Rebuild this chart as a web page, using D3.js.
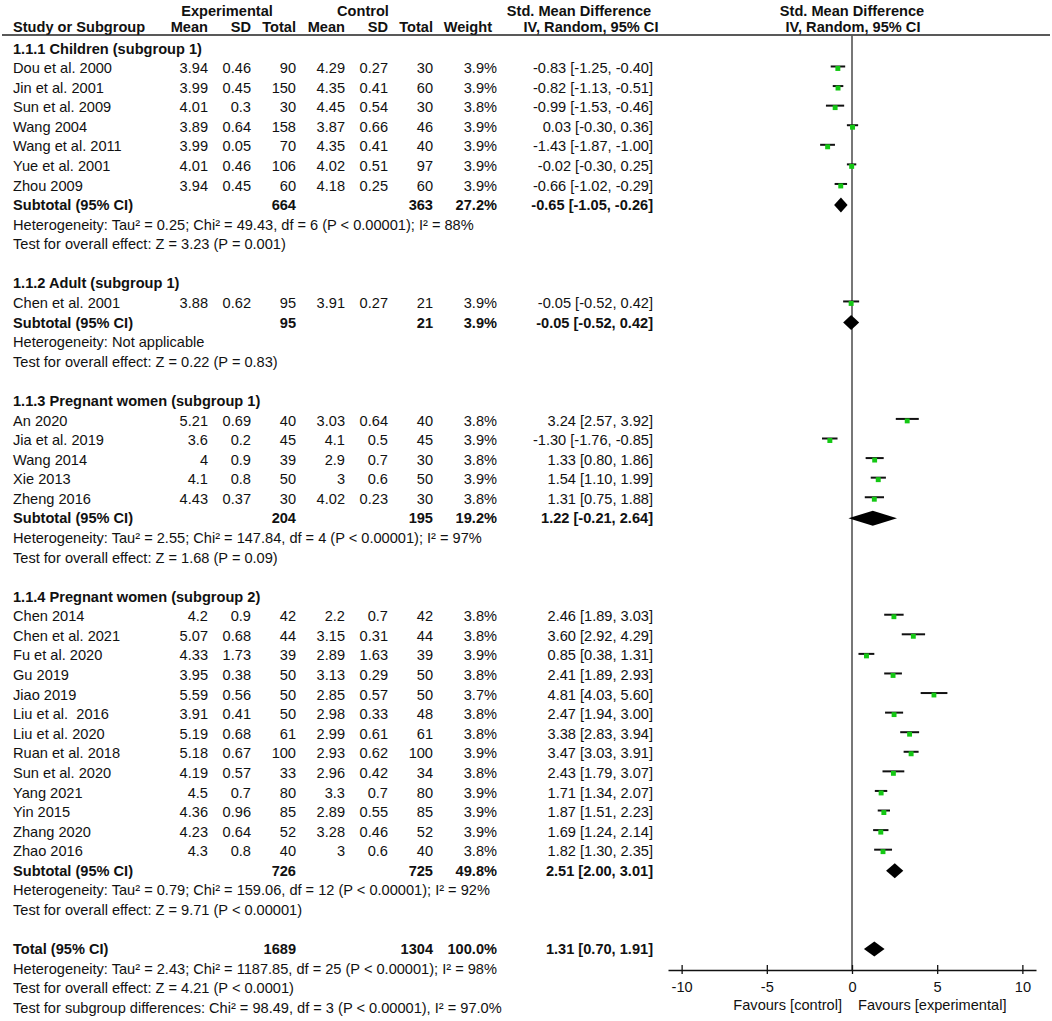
<!DOCTYPE html>
<html>
<head>
<meta charset="utf-8">
<script src="https://cdn.jsdelivr.net/npm/d3@7"></script>
<style>
  html, body { margin: 0; padding: 0; background: #fff; }
  svg { display: block; }
  text { font-family: "Liberation Sans", Arial, sans-serif; font-size: 14.6px; fill: #111; white-space: pre; }
  .b { font-weight: bold; }
</style>
</head>
<body>
<svg id="chart" width="1052" height="1021"></svg>
<script>
// ---------- DATA ----------
const groupTitles = [
  "1.1.1 Children (subgroup 1)",
  "1.1.2 Adult (subgroup 1)",
  "1.1.3 Pregnant women (subgroup 1)",
  "1.1.4 Pregnant women (subgroup 2)"
];
const studyNames = [
  "Dou et al. 2000","Jin et al. 2001","Sun et al. 2009","Wang 2004","Wang et al. 2011","Yue et al. 2001","Zhou 2009",
  "Chen et al. 2001",
  "An 2020","Jia et al. 2019","Wang 2014","Xie 2013","Zheng 2016",
  "Chen 2014","Chen et al. 2021","Fu et al. 2020","Gu 2019","Jiao 2019","Liu et al.  2016","Liu et al. 2020","Ruan et al. 2018","Sun et al. 2020","Yang 2021","Yin 2015","Zhang 2020","Zhao 2016"
];
const studyGroup = [0,0,0,0,0,0,0, 1, 2,2,2,2,2, 3,3,3,3,3,3,3,3,3,3,3,3,3];
const expMean = ["3.94","3.99","4.01","3.89","3.99","4.01","3.94", "3.88", "5.21","3.6","4","4.1","4.43",
  "4.2","5.07","4.33","3.95","5.59","3.91","5.19","5.18","4.19","4.5","4.36","4.23","4.3"];
const expSD = ["0.46","0.45","0.3","0.64","0.05","0.46","0.45", "0.62", "0.69","0.2","0.9","0.8","0.37",
  "0.9","0.68","1.73","0.38","0.56","0.41","0.68","0.67","0.57","0.7","0.96","0.64","0.8"];
const expN = [90,150,30,158,70,106,60, 95, 40,45,39,50,30, 42,44,39,50,50,50,61,100,33,80,85,52,40];
const ctlMean = ["4.29","4.35","4.45","3.87","4.35","4.02","4.18", "3.91", "3.03","4.1","2.9","3","4.02",
  "2.2","3.15","2.89","3.13","2.85","2.98","2.99","2.93","2.96","3.3","2.89","3.28","3"];
const ctlSD = ["0.27","0.41","0.54","0.66","0.41","0.51","0.25", "0.27", "0.64","0.5","0.7","0.6","0.23",
  "0.7","0.31","1.63","0.29","0.57","0.33","0.61","0.62","0.42","0.7","0.55","0.46","0.6"];
const ctlN = [30,60,30,46,40,97,60, 21, 40,45,30,50,30, 42,44,39,50,50,48,61,100,34,80,85,52,40];
const weights = [3.9,3.9,3.8,3.9,3.9,3.9,3.9, 3.9, 3.8,3.9,3.8,3.9,3.8,
  3.8,3.8,3.9,3.8,3.7,3.8,3.8,3.9,3.8,3.9,3.9,3.9,3.8];
const smd = [-0.83,-0.82,-0.99,0.03,-1.43,-0.02,-0.66, -0.05, 3.24,-1.30,1.33,1.54,1.31,
  2.46,3.60,0.85,2.41,4.81,2.47,3.38,3.47,2.43,1.71,1.87,1.69,1.82];
const ciLow = [-1.25,-1.13,-1.53,-0.30,-1.87,-0.30,-1.02, -0.52, 2.57,-1.76,0.80,1.10,0.75,
  1.89,2.92,0.38,1.89,4.03,1.94,2.83,3.03,1.79,1.34,1.51,1.24,1.30];
const ciHigh = [-0.40,-0.51,-0.46,0.36,-1.00,0.25,-0.29, 0.42, 3.92,-0.85,1.86,1.99,1.88,
  3.03,4.29,1.31,2.93,5.60,3.00,3.94,3.91,3.07,2.07,2.23,2.14,2.35];

const subExpN = [664, 95, 204, 726];
const subCtlN = [363, 21, 195, 725];
const subWeight = ["27.2%","3.9%","19.2%","49.8%"];
const subSmd = [-0.65, -0.05, 1.22, 2.51];
const subLow = [-1.05, -0.52, -0.21, 2.00];
const subHigh = [-0.26, 0.42, 2.64, 3.01];
const subHet = [
  "Heterogeneity: Tau² = 0.25; Chi² = 49.43, df = 6 (P < 0.00001); I² = 88%",
  "Heterogeneity: Not applicable",
  "Heterogeneity: Tau² = 2.55; Chi² = 147.84, df = 4 (P < 0.00001); I² = 97%",
  "Heterogeneity: Tau² = 0.79; Chi² = 159.06, df = 12 (P < 0.00001); I² = 92%"
];
const subTest = [
  "Test for overall effect: Z = 3.23 (P = 0.001)",
  "Test for overall effect: Z = 0.22 (P = 0.83)",
  "Test for overall effect: Z = 1.68 (P = 0.09)",
  "Test for overall effect: Z = 9.71 (P < 0.00001)"
];
const totalExpN = 1689, totalCtlN = 1304, totalWeight = "100.0%";
const totalSmd = 1.31, totalLow = 0.70, totalHigh = 1.91;
const totalNotes = [
  "Heterogeneity: Tau² = 2.43; Chi² = 1187.85, df = 25 (P < 0.00001); I² = 98%",
  "Test for overall effect: Z = 4.21 (P < 0.0001)",
  "Test for subgroup differences: Chi² = 98.49, df = 3 (P < 0.00001), I² = 97.0%"
];
const axisTicks = [-10, -5, 0, 5, 10];
const favourLeft = "Favours [control]";
const favourRight = "Favours [experimental]";

// ---------- LAYOUT ----------
const svg = d3.select("#chart");
const f2 = v => v.toFixed(2);
const ciText = (m, l, h) => `${f2(m)} [${f2(l)}, ${f2(h)}]`;

// build row list
const rows = [];
groupTitles.forEach((t, g) => {
  rows.push({type: "group", g});
  studyNames.forEach((n, i) => { if (studyGroup[i] === g) rows.push({type: "study", i}); });
  rows.push({type: "sub", g});
  rows.push({type: "het", g});
  rows.push({type: "test", g});
  rows.push({type: "blank"});
});
rows.push({type: "total"});
totalNotes.forEach((t, k) => rows.push({type: "note", k}));

const rowY = d3.scaleLinear().domain([0, 1]).range([48.4, 48.4 + 19.58]);

const colX = {name: 13, eMean: 208, eSD: 251, eN: 296, cMean: 345, cSD: 388, cN: 433, w: 497, ci: 653};
const x = d3.scaleLinear().domain([-10.8, 10.8]).range([668, 1036]);
const axisY = 970;
const sq = d3.scaleSqrt().domain([0, 4]).range([0, 5]);

// headers
const hdr = svg.append("g");
const ht = (txt, xx, yy, anchor) => hdr.append("text").attr("x", xx).attr("y", yy).attr("dy", "0.35em")
  .attr("text-anchor", anchor).attr("class", "b").text(txt);
ht("Experimental", 227, 11, "middle");
ht("Control", 363, 11, "middle");
ht("Std. Mean Difference", 579, 11, "middle");
ht("Std. Mean Difference", 852, 11, "middle");
ht("Study or Subgroup", colX.name, 27, "start");
ht("Mean", colX.eMean, 27, "end");
ht("SD", colX.eSD, 27, "end");
ht("Total", colX.eN, 27, "end");
ht("Mean", colX.cMean, 27, "end");
ht("SD", colX.cSD, 27, "end");
ht("Total", colX.cN, 27, "end");
ht("Weight", 492, 27, "end");
ht("IV, Random, 95% CI", 591, 27, "middle");
ht("IV, Random, 95% CI", 853, 27, "middle");
svg.append("line").attr("x1", 2).attr("x2", 1050).attr("y1", 35).attr("y2", 35)
  .attr("stroke", "#222").attr("stroke-width", 1.3);

// zero line
svg.append("line").attr("x1", x(0)).attr("x2", x(0)).attr("y1", 35).attr("y2", axisY)
  .attr("stroke", "#555").attr("stroke-width", 1.6);

const body = svg.append("g");
function txt(str, xx, yy, anchor, bold) {
  body.append("text").attr("x", xx).attr("y", yy).attr("dy", "0.35em")
    .attr("text-anchor", anchor).attr("class", bold ? "b" : null).text(str);
}
function diamond(m, l, h, yy) {
  const hh = 7.5;
  body.append("path")
    .attr("d", `M${x(l)},${yy} L${x(m)},${yy - hh} L${x(h)},${yy} L${x(m)},${yy + hh} Z`)
    .attr("fill", "#000");
}

rows.forEach((r, k) => {
  const y = rowY(k);
  if (r.type === "group") {
    txt(groupTitles[r.g], colX.name, y, "start", true);
  } else if (r.type === "study") {
    const i = r.i;
    txt(studyNames[i], colX.name, y, "start");
    txt(expMean[i], colX.eMean, y, "end");
    txt(expSD[i], colX.eSD, y, "end");
    txt(expN[i], colX.eN, y, "end");
    txt(ctlMean[i], colX.cMean, y, "end");
    txt(ctlSD[i], colX.cSD, y, "end");
    txt(ctlN[i], colX.cN, y, "end");
    txt(weights[i].toFixed(1) + "%", colX.w, y, "end");
    txt(ciText(smd[i], ciLow[i], ciHigh[i]), colX.ci, y, "end");
    body.append("line").attr("x1", x(ciLow[i])).attr("x2", x(ciHigh[i]))
      .attr("y1", y - 1.5).attr("y2", y - 1.5).attr("stroke", "#111").attr("stroke-width", 2);
    const s = sq(weights[i]);
    body.append("rect").attr("x", x(smd[i]) - s / 2).attr("y", y - s / 2 + 0.5)
      .attr("width", s).attr("height", s).attr("fill", "#14c814");
  } else if (r.type === "sub") {
    const g = r.g;
    txt("Subtotal (95% CI)", colX.name, y, "start", true);
    txt(subExpN[g], colX.eN, y, "end", true);
    txt(subCtlN[g], colX.cN, y, "end", true);
    txt(subWeight[g], colX.w, y, "end", true);
    txt(ciText(subSmd[g], subLow[g], subHigh[g]), colX.ci, y, "end", true);
    diamond(subSmd[g], subLow[g], subHigh[g], y);
  } else if (r.type === "het") {
    txt(subHet[r.g], colX.name, y, "start");
  } else if (r.type === "test") {
    txt(subTest[r.g], colX.name, y, "start");
  } else if (r.type === "total") {
    txt("Total (95% CI)", colX.name, y, "start", true);
    txt(totalExpN, colX.eN, y, "end", true);
    txt(totalCtlN, colX.cN, y, "end", true);
    txt(totalWeight, colX.w, y, "end", true);
    txt(ciText(totalSmd, totalLow, totalHigh), colX.ci, y, "end", true);
    diamond(totalSmd, totalLow, totalHigh, y);
  } else if (r.type === "note") {
    txt(totalNotes[r.k], colX.name, y, "start");
  }
});

// axis
const axisG = svg.append("g").attr("transform", `translate(0,${axisY})`)
  .call(d3.axisBottom(x).tickValues(axisTicks).tickSize(4).tickSizeOuter(0).tickPadding(8)
    .tickFormat(d => String(d)));
axisG.select(".domain").attr("stroke", "#111").attr("stroke-width", 1.3);
axisG.selectAll(".tick line").attr("y1", -5).attr("y2", 4).attr("stroke", "#111").attr("stroke-width", 1.3);
axisG.selectAll(".tick text").attr("font-size", 14.6).attr("font-family", "Liberation Sans, Arial, sans-serif")
  .attr("fill", "#111");
svg.append("text").attr("x", x(0) - 10).attr("y", 1005).attr("dy", "0.35em").attr("text-anchor", "end").text(favourLeft);
svg.append("text").attr("x", x(0) + 6).attr("y", 1005).attr("dy", "0.35em").attr("text-anchor", "start").text(favourRight);
</script>
</body>
</html>
